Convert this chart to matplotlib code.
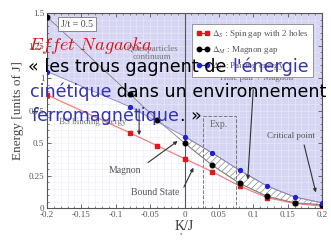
import matplotlib
matplotlib.use('Agg')
import matplotlib.pyplot as plt
from matplotlib.ticker import FixedLocator, MultipleLocator
from matplotlib.patches import Rectangle
from matplotlib.lines import Line2D

plt.rcParams['mathtext.fontset'] = 'stix'
plt.rcParams['hatch.linewidth'] = 0.5

# ---- data ----
kj_ticks = [-0.2, -0.15, -0.1, -0.05, 0, 0.05, 0.1, 0.15, 0.2]
kj_labels = ['-0.2', '-0.15', '-0.1', '-0.05', '0', '0.05', '0.1', '0.15', '0.2']
e_ticks = [0, 0.25, 0.5, 0.75, 1, 1.25, 1.5]
e_labels = ['0', '0.25', '0.5', '0.75', '1', '1.25', '1.5']

spin_k = [-0.2, -0.08, -0.04, 0, 0.04, 0.08, 0.12, 0.16, 0.2]
spin_gap = [0.87, 0.58, 0.48, 0.38, 0.28, 0.17, 0.08, 0.035, 0.015]
magnon_k = [-0.2, -0.08, -0.04, 0, 0.04, 0.08, 0.12, 0.16, 0.2]
magnon_gap = [1.47, 0.88, 0.68, 0.5, 0.33, 0.19, 0.09, 0.04, 0.025]
pair_k = [-0.2, -0.08, 0, 0.04, 0.08, 0.12, 0.16, 0.2]
pair_energy = [1.05, 0.78, 0.55, 0.425, 0.29, 0.17, 0.085, 0.04]

legend_labels = [r'$\Delta_S$ : Spin gap with 2 holes',
                 r'$\Delta_M$ : Magnon gap',
                 r'$\Delta_P$ : Pairing energy']

W, H = 331, 243
fig = plt.figure(figsize=(W / 100, H / 100), dpi=100)
ax = fig.add_axes([47 / W, 1 - 208 / H, 275 / W, 195 / H])

serif = 'Liberation Serif'
grey_txt = '#555555'
lav = '#d6d6f4'

# regions
ax.fill_between(pair_k, pair_energy, 1.5, color=lav, lw=0, zorder=0.2)
ax.fill_between(magnon_k[3:], magnon_gap[3:], pair_energy[2:], facecolor='white',
                edgecolor='#8a8a8a', hatch='/////', lw=0.6, zorder=0.6)

ax.set_axisbelow(True)
ax.grid(which='both', color='#ebebf8', lw=0.4)

ax.axvline(0, color='#555555', lw=0.8, zorder=1)
ax.add_patch(Rectangle((0.027, 0), 0.048, 0.71, fill=False, ls='--', ec='#7a7a7a', lw=0.7, zorder=1))

# curves
ax.plot(spin_k, spin_gap, color='#f08080', lw=0.9, zorder=2)
ax.plot(spin_k, spin_gap, ls='none', marker='s', ms=3.0, color='#e01818', zorder=3)
ax.plot(magnon_k, magnon_gap, color='#808080', lw=0.6, zorder=2)
ax.plot(magnon_k, magnon_gap, ls='none', marker='o', ms=3.3, color='black', zorder=3)
ax.plot(pair_k, pair_energy, color='#8888c4', lw=0.6, zorder=2)
ax.plot(pair_k, pair_energy, ls='none', marker='o', ms=2.8, color='#2020d8', zorder=3)

ax.set_xlim(-0.2, 0.2)
ax.set_ylim(0, 1.5)
ax.xaxis.set_major_locator(FixedLocator(kj_ticks))
ax.set_xticklabels(kj_labels)
ax.yaxis.set_major_locator(FixedLocator(e_ticks))
ax.set_yticklabels(e_labels)
ax.xaxis.set_minor_locator(MultipleLocator(0.01))
ax.yaxis.set_minor_locator(MultipleLocator(0.05))
ax.tick_params(which='both', direction='in', top=True, right=True, color='#555555')
ax.tick_params(which='major', length=3, width=0.6, labelsize=6.5, labelcolor=grey_txt, pad=2)
ax.tick_params(which='minor', length=1.6, width=0.5)
for lab in ax.get_xticklabels() + ax.get_yticklabels():
    lab.set_family(serif)
for s in ax.spines.values():
    s.set_color('#555555')
    s.set_linewidth(0.8)

ax.set_xlabel('K/J', family=serif, fontsize=10, color='#333333', labelpad=1)
ax.set_ylabel('Energy [units of J]', family=serif, fontsize=9.5, color='#444444', labelpad=3)

# legend
handles = [Line2D([], [], color='#e01818', marker='s', ms=3, lw=0.8),
           Line2D([], [], color='black', marker='o', ms=3.2, lw=0.8),
           Line2D([], [], color='#2020d8', marker='o', ms=3, lw=0.8)]
leg = ax.legend(handles, legend_labels, loc='upper right', bbox_to_anchor=(0.985, 0.968),
                prop={'family': serif, 'size': 6.5}, numpoints=2, handlelength=1.4,
                handletextpad=0.3, labelspacing=0.45, borderpad=0.5, fancybox=False,
                edgecolor='#888888', framealpha=1)
leg.get_frame().set_linewidth(0.6)
for t in leg.get_texts():
    t.set_color('#555555')

# annotations
ax.text(-0.156, 1.415, 'J/t = 0.5', family=serif, fontsize=7, color='#444444', ha='center', va='center',
        bbox=dict(boxstyle='square,pad=0.3', fc='white', ec='#777777', lw=0.6))
ax.text(-0.047, 1.19, 'Quasiparticles\ncontinuum', family=serif, fontsize=6.5, color='#777777',
        ha='center', va='center', linespacing=1.0)
ax.text(0.105, 1.0, 'Hole pair + Magnon', family=serif, fontsize=6.5, color='#666666', ha='center', va='center')
ax.text(0.05, 0.64, 'Exp.', family=serif, fontsize=7, color='#666666', ha='center', va='center')
ax.text(0.155, 0.555, 'Critical point', family=serif, fontsize=6.5, color='#555555', ha='center', va='center')
ax.text(-0.134, 0.66, 'BS binding energy', family=serif, fontsize=6.5, color='#777777', ha='center', va='center')
ax.text(-0.086, 0.285, 'Magnon', family=serif, fontsize=7, color='#555555', ha='center', va='center')
ax.text(-0.043, 0.12, 'Bound State', family=serif, fontsize=7, color='#555555', ha='center', va='center')

ap = dict(arrowstyle='-|>', color='#333333', lw=0.8, mutation_scale=5, shrinkA=0, shrinkB=0)
ax.annotate('', xy=(-0.066, 0.56), xytext=(-0.066, 0.76), arrowprops=ap)
ax.annotate('', xy=(-0.01, 0.515), xytext=(-0.053, 0.35), arrowprops=ap)
ax.annotate('', xy=(0.013, 0.31), xytext=(-0.001, 0.16), arrowprops=ap)
ax.annotate('', xy=(0.092, 0.22), xytext=(0.1, 0.91), arrowprops=ap)
ax.annotate('', xy=(0.191, 0.12), xytext=(0.174, 0.485), arrowprops=ap)

# ---- overlay slide text ----
renderer = fig.canvas.get_renderer()
sans = 'DejaVu Sans'
fs = 12.6
blue = '#3333b3'
red = '#e01010'


def width(s):
    t = fig.text(0, 0, s + 'x', family=sans, fontsize=fs)
    w1 = t.get_window_extent(renderer).width
    t.remove()
    t = fig.text(0, 0, 'x', family=sans, fontsize=fs)
    w2 = t.get_window_extent(renderer).width
    t.remove()
    return w1 - w2


def line(x_px, y_px, pieces):
    x = x_px
    for s, c in pieces:
        fig.text(x / W, 1 - y_px / H, s, family=sans, fontsize=fs, color=c, ha='left', va='baseline', zorder=10)
        x += width(s)


fig.text(28 / W, 1 - 50 / H, r'$\mathit{Effet\ Nagaoka}$', math_fontfamily='cm', fontsize=13.2,
         color=red, ha='left', va='baseline', zorder=10)
line(28, 72, [("« les trous gagnent de ", 'black'), ("l'énergie", blue)])
line(30, 97, [("cinétique", blue), (" dans un environnement", 'black')])
line(32, 121, [("ferromagnétique", blue), (". »", 'black')])
fig.text(179 / W, 1 - 240 / H, "'", family=sans, fontsize=6, color=blue, ha='left', va='baseline')

fig.savefig('out.png', dpi=100)
